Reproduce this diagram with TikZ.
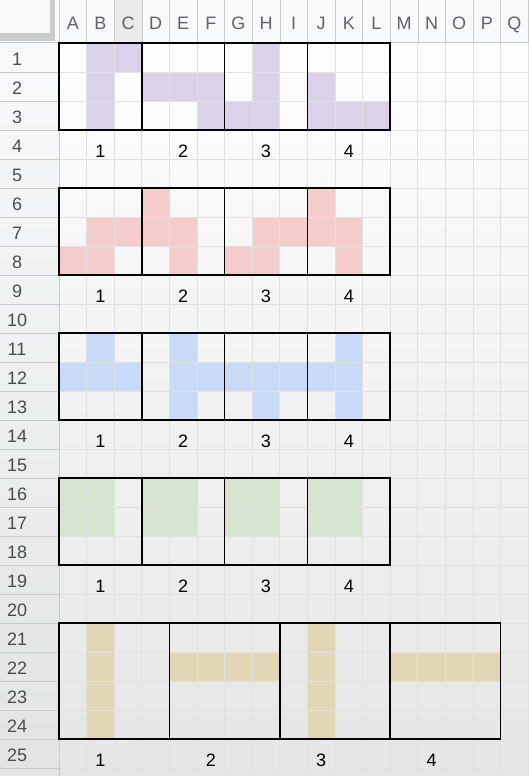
\documentclass[tikz,border=0pt]{standalone}
\usepackage{fontspec}
\setmainfont{Liberation Sans}
\definecolor{gridline}{HTML}{E0E1E1}
\definecolor{headfill}{HTML}{F8F9FA}
\definecolor{headline}{HTML}{C8CACB}
\definecolor{headtext}{HTML}{5F6368}
\definecolor{purplecell}{HTML}{D9D2E9}
\definecolor{pinkcell}{HTML}{F4CCCC}
\definecolor{bluecell}{HTML}{C9DAF8}
\definecolor{greencell}{HTML}{D6E4D0}
\definecolor{tancell}{HTML}{E2D7B5}
\tikzset{
  headlab/.style={font=\fontsize{18}{18}\selectfont,text=headtext,anchor=base},
  rotlab/.style={font=\fontsize{18}{18}\selectfont,anchor=base},
  piecebox/.style={draw=black,line width=1.6pt},
}

\begin{document}
\begin{tikzpicture}[x=1pt,y=-1pt]
\useasboundingbox (0,0) rectangle (528,776);
\shade[top color=white,middle color=white,bottom color=black!10] (0,0) rectangle (528,776);
\fill[headfill] (0,0) rectangle (528,43);
\fill[black!8] (114.2,0) rectangle (141.8,43);
\shade[top color=headfill,bottom color=black!11] (0,43) rectangle (59,776);
\fill[black!20] (0,33) rectangle (55,41);
\fill[black!20] (50,0) rectangle (55,41);
\begin{scope}[shift={(59,43)},x=27.6pt,y=-29pt]
\foreach \c/\r in {2/1,3/1,2/2,2/3, 4/2,5/2,6/2,6/3, 8/1,8/2,8/3,7/3, 10/2,10/3,11/3,12/3}
  \fill[purplecell] (\c-1,\r-1) rectangle (\c,\r);
\foreach \c/\r in {2/7,3/7,1/8,2/8, 4/6,4/7,5/7,5/8, 8/7,9/7,7/8,8/8, 10/6,10/7,11/7,11/8}
  \fill[pinkcell] (\c-1,\r-1) rectangle (\c,\r);
\foreach \c/\r in {2/11,1/12,2/12,3/12, 5/11,5/12,6/12,5/13, 7/12,8/12,9/12,8/13, 11/11,10/12,11/12,11/13}
  \fill[bluecell] (\c-1,\r-1) rectangle (\c,\r);
\foreach \b in {0,3,6,9}
  \fill[greencell] (\b,15) rectangle +(2,2);
\fill[tancell] (1,20) rectangle (2,24);
\fill[tancell] (4,21) rectangle (8,22);
\fill[tancell] (9,20) rectangle (10,24);
\fill[tancell] (12,21) rectangle (16,22);
\foreach \i in {1,...,17} \draw[gridline,line width=0.9pt] (\i,0) -- (\i,25.8);
\foreach \j in {1,...,25} \draw[gridline,line width=0.9pt] (0,\j) -- (17.2,\j);
\foreach \i in {1,...,17} \draw[headline] (\i,-1.49) -- (\i,0);
\foreach \j in {1,...,25} \draw[headline] (-2.14,\j) -- (0,\j);
\draw[headline,line width=1pt] (-2.14,0) -- (17.2,0);
\draw[headline,line width=1pt] (0,-1.49) -- (0,25.8);
\foreach \l [count=\i] in {A,...,Q}
  \node[headlab] (col-\l) at (\i-0.5,-0.47) {\l};
\foreach \r in {1,...,25}
  \node[headlab,text=black!70] (row-\r) at (-1.52,\r-0.24) {\r};
\foreach \r in {1,6,11,16} {
  \foreach \b [count=\n] in {0,3,6,9} {
    \draw[piecebox] (\b,\r-1) rectangle +(3,3);
    \node[rotlab] (lab-\r-\n) at (\b+1.5,\r+2.95) {\n};
  }
}
\foreach \b [count=\n] in {0,4,8,12} {
  \draw[piecebox] (\b,20) rectangle +(4,4);
  \node[rotlab] (lab-21-\n) at (\b+1.5,24.95) {\n};
}
\end{scope}
\end{tikzpicture}
\end{document}
